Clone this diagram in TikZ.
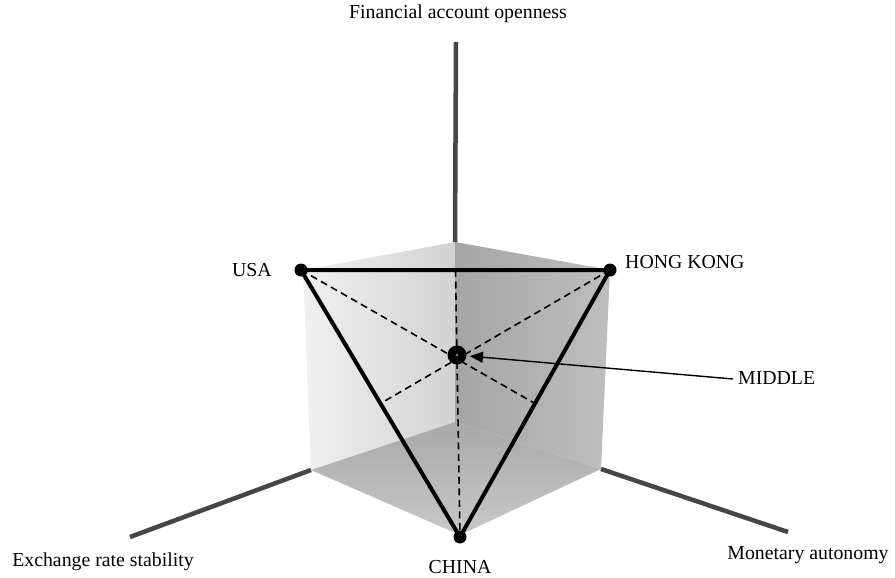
\documentclass[tikz,border=0pt]{standalone}
\usepackage{fontspec}
\setmainfont{Liberation Serif}
\usetikzlibrary{arrows.meta,calc}
\begin{document}
\begin{tikzpicture}[x=1pt,y=-1pt,
  lbl/.style={font=\fontsize{19.8}{23}\selectfont, inner sep=0pt},
  axis/.style={draw={rgb,255:red,70;green,70;blue,70}, line width=4.5pt},
  edge/.style={draw=black, line width=4pt},
  med/.style={draw=black, line width=1.6pt, dash pattern=on 7pt off 4.5pt},
  vdot/.style={circle, fill=black, minimum size=13pt, inner sep=0pt}]
\useasboundingbox (0,0) rectangle (895,578);
% cube faces
\coordinate (top) at (455,242);
\coordinate (back) at (455,422);
\coordinate (ltop) at (303,270);
\coordinate (lbot) at (311,470);
\coordinate (rtop) at (610,270);
\coordinate (rbot) at (601,469);
\coordinate (front) at (460,535);
\shade[left color={rgb,255:red,240;green,240;blue,240}, right color={rgb,255:red,210;green,210;blue,210}]
  (top) -- (ltop) -- (lbot) -- (back) -- cycle;
\shade[left color={rgb,255:red,165;green,165;blue,165}, right color={rgb,255:red,190;green,190;blue,190}]
  (top) -- (rtop) -- (rbot) -- (back) -- cycle;
\shade[top color={rgb,255:red,168;green,168;blue,168}, bottom color={rgb,255:red,200;green,200;blue,200}]
  (back) -- (lbot) -- (front) -- (rbot) -- cycle;
% axes
\coordinate (fa) at (456,42);
\coordinate (ex) at (130,537);
\coordinate (ma) at (788,532);
\draw[axis] (fa) -- (top);
\draw[axis] (ex) -- (lbot);
\draw[axis] (rbot) -- (ma);
% points
\node[vdot] (usa) at (301,270) {};
\node[vdot] (hk) at (610,270) {};
\node[vdot] (china) at (460,537) {};
\coordinate (mid) at (457,355);
% medians
\draw[med] (usa.center) -- ($(hk.center)!0.5!(china.center)$);
\draw[med] (hk.center) -- ($(usa.center)!0.5!(china.center)$);
\draw[med] ($(usa.center)!0.5!(hk.center)$) -- (china.center);
% triangle
\draw[edge, line join=round] (usa.center) -- (hk.center) -- (china.center) -- cycle;
% middle point
\node[circle, fill=black, minimum size=19pt, inner sep=0pt] (middle) at (mid) {};
\fill[gray] (mid) circle (1.5pt);
% labels
\node[lbl] at (458,14) {Financial account openness};
\node[lbl, anchor=east] (lusa) at (272,270) {USA};
\node[lbl, anchor=west] (lhk) at (625,262) {HONG KONG};
\node[lbl, anchor=west] (lmid) at (738,378) {MIDDLE};
\node[lbl] at (460,567) {CHINA};
\node[lbl] at (103,562) {Exchange rate stability};
\node[lbl] at (808,555) {Monetary autonomy};
\coordinate (astart) at (733,379);
\draw[-{Triangle[length=13pt,width=11pt]}, line width=1.4pt, shorten >=13pt] (astart) -- (middle.center);
\end{tikzpicture}
\end{document}
